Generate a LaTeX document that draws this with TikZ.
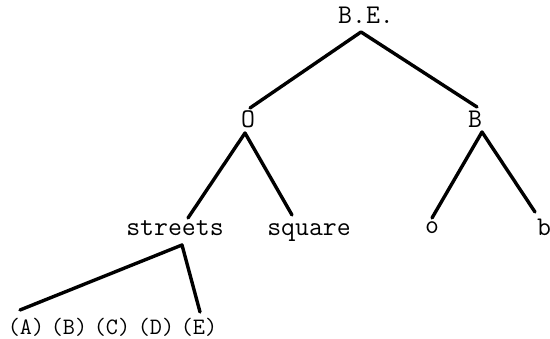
\documentclass[tikz,border=0pt]{standalone}
\usepackage{fontspec}
\usetikzlibrary{calc}

\begin{document}
\begin{tikzpicture}[x=1pt,y=-1pt,
      lbl/.style={anchor=base,inner sep=0pt,font=\fontsize{27}{30}\selectfont\ttfamily},
      leaf/.style={anchor=base,inner sep=0pt,font=\fontsize{23.5}{27}\selectfont\ttfamily},
      branch/.style={line width=3.4pt,line cap=round,line join=round}]
    \useasboundingbox (0,0) rectangle (550,339);
    \node[lbl] (be) at (366,24) {B.E.};
    \node[lbl] (bigo) at (248,128) {O};
    \node[lbl] (bigb) at (475,128) {B};
    \node[lbl] (streets) at (175,236) {streets};
    \node[lbl] (square) at (309,236) {square};
    \node[lbl] (smallo) at (432,234) {o};
    \node[lbl] (smallb) at (544,236) {b};
    \node[leaf] (la) at (26,335) {(A)};
    \node[leaf] (lb) at (69,335) {(B)};
    \node[leaf] (lc) at (112,335) {(C)};
    \node[leaf] (ld) at (156,335) {(D)};
    \node[leaf] (le) at (199,335) {(E)};
    % top split
    \draw[branch] ($(bigo.base)+(2,-20)$) -- ($(be.base)+(-5,8)$) -- ($(bigb.base)+(2,-21)$);
    % O and B
    \draw[branch] ($(streets.base)+(13,-18)$) -- ($(bigo.base)+(-3,5)$) -- ($(square.base)+(-17,-21)$);
    \draw[branch] ($(smallo.base)+(0,-16)$) -- ($(bigb.base)+(7,4)$) -- ($(smallb.base)+(-9,-24)$);
    % streets
    \draw[branch] ($(la.base)+(-6,-25)$) -- ($(streets.base)+(7,9)$) -- ($(le.base)+(1,-23)$);
  \end{tikzpicture}
\end{document}
